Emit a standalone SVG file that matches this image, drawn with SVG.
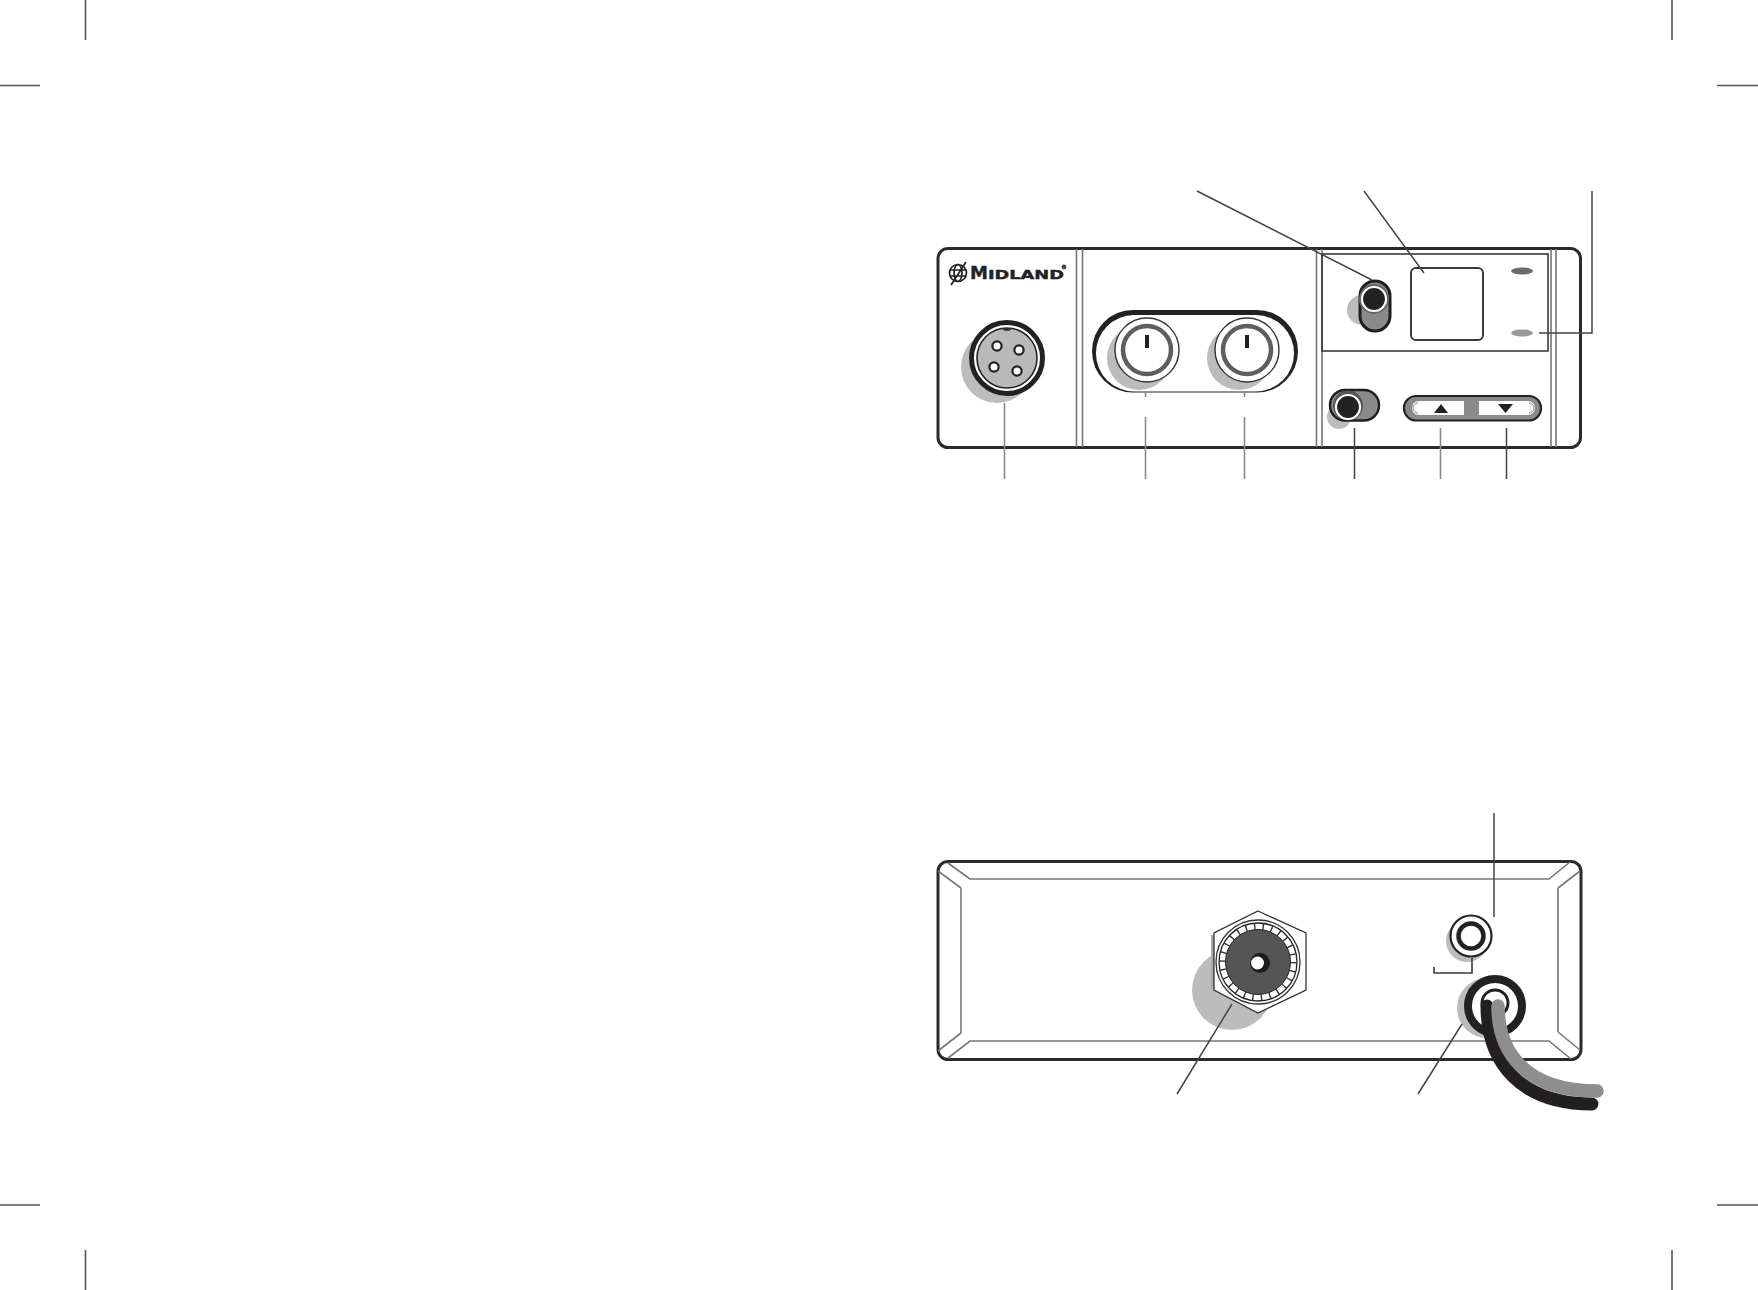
<svg xmlns="http://www.w3.org/2000/svg" width="1758" height="1290" viewBox="0 0 1758 1290">
<style>
.ln{fill:none;stroke:#3a3a3a;stroke-width:1.6}
.lead{fill:none;stroke:#444;stroke-width:1.5}
.leadg{fill:none;stroke:#8a8a8a;stroke-width:1.6}
.panel{fill:#fff;stroke:#2a2a2a;stroke-width:3}
.thin{fill:none;stroke:#777;stroke-width:1.6}
.shadow{fill:#bcbcbc}
.crop{fill:none;stroke:#555;stroke-width:1.6}
</style>
<rect width="1758" height="1290" fill="#fff"/>
<g id="crop-marks" class="crop">
<path d="M85.500 0V40M0 85.500H40M1672 0V40M1717 85.500H1758M0 1205H40M85.500 1250V1290M1717 1205H1758M1672 1250V1290"/>
</g>
<g id="front-panel">
<rect class="panel" x="938" y="248.500" width="642.500" height="199" rx="10"/>
<path class="thin" d="M1076.500 249V447M1082.500 249V447M1316.500 249V447M1322 249V447M1551 249V447M1556 249V447"/>
<rect class="ln" x="1322" y="254" width="226" height="97"/>
</g>
<g id="logo">
<g fill="none" stroke="#222" stroke-width="1.700">
<circle cx="958" cy="273" r="8.500"/><ellipse cx="958" cy="273" rx="4" ry="8.500"/><path d="M950 270H966M950 276H966M951 285L966 262"/>
</g>
<text x="970" y="279" font-family="'DejaVu Sans',sans-serif" font-weight="bold" font-size="18" fill="#222" stroke="#222" stroke-width="0.400">M<tspan font-size="12" textLength="76" lengthAdjust="spacingAndGlyphs">IDLAND</tspan></text>
<circle cx="1064" cy="267" r="2.400" fill="#444"/>
</g>
<g id="mic-connector">
<circle class="shadow" cx="997" cy="367" r="36"/>
<circle cx="1007" cy="358" r="35.500" fill="#fff" stroke="#222" stroke-width="5"/>
<circle cx="1007" cy="358" r="30" fill="#b9b9b9" stroke="#222" stroke-width="1.600"/>
<path d="M1002 328a5 3 0 0 0 10 0z" fill="#333"/>
<g fill="#fff" stroke="#222" stroke-width="2.200">
<circle cx="997" cy="346" r="4.600"/><circle cx="1019" cy="350" r="4.600"/><circle cx="994" cy="367" r="4.600"/><circle cx="1017" cy="371" r="4.600"/>
</g>
</g>
<g id="knob-housing">
<rect x="1092" y="310" width="206" height="82.500" rx="41" fill="#222"/>
<rect x="1096" y="315" width="198" height="76.500" rx="38" fill="#fff"/>
</g>
<g id="knob-left">
<circle class="shadow" cx="1139" cy="358" r="32"/>
<circle cx="1147" cy="350" r="32" fill="#fff" stroke="#333" stroke-width="1.400"/>
<circle cx="1147" cy="350" r="24" fill="#fff" stroke="#5e5e5e" stroke-width="4.500"/>
<rect x="1145" y="335" width="4" height="13" fill="#222"/>
</g>
<g id="knob-right">
<circle class="shadow" cx="1239" cy="358" r="32"/>
<circle cx="1247" cy="350" r="32" fill="#fff" stroke="#333" stroke-width="1.400"/>
<circle cx="1247" cy="350" r="24" fill="#fff" stroke="#5e5e5e" stroke-width="4.500"/>
<rect x="1245" y="335" width="4" height="13" fill="#222"/>
</g>
<g id="toggle-upper">
<circle class="shadow" cx="1362" cy="310" r="15"/>
<rect x="1360" y="281" width="30" height="50" rx="15" fill="#8a8a8a" stroke="#1e1e1e" stroke-width="3"/>
<circle cx="1374" cy="299" r="15" fill="#666"/>
<circle cx="1374" cy="299" r="12" fill="#222" stroke="#fff" stroke-width="2.200"/>
</g>
<g id="display">
<rect x="1411" y="268" width="72" height="72" rx="5" fill="none" stroke="#3a3a3a" stroke-width="2"/>
</g>
<g id="leds">
<ellipse cx="1522" cy="271" rx="11" ry="3.500" fill="#6b6b6b"/>
<ellipse cx="1522" cy="333" rx="11" ry="3.500" fill="#999"/>
</g>
<g id="toggle-lower">
<circle class="shadow" cx="1339" cy="417" r="12"/>
<rect x="1330" y="390" width="49" height="30.500" rx="15" fill="#8a8a8a" stroke="#1e1e1e" stroke-width="2.400"/>
<circle cx="1348" cy="405.500" r="15" fill="#555"/>
<circle cx="1348" cy="407" r="12" fill="#222" stroke="#fff" stroke-width="2.200"/>
</g>
<g id="channel-buttons">
<rect x="1404" y="396" width="137" height="24.500" rx="12.200" fill="#8a8a8a" stroke="#222" stroke-width="2.200"/>
<path d="M1464 401H1419a7 7 0 0 0 0 14H1464zM1479 401H1528a7 7 0 0 1 0 14H1479z" fill="#fff"/>
<path d="M1418 403a5 5 0 0 0 0 10M1529 403a5 5 0 0 1 0 10" fill="none" stroke="#888" stroke-width="1"/>
<path d="M1434 413L1441 404L1448 413zM1498 404H1513L1505.500 413z" fill="#222"/>
</g>
<g id="rear-panel">
<rect class="panel" x="938" y="861.500" width="643" height="198" rx="10"/>
<path class="thin" d="M970 879H1549L1570 862M948 863L970 879M961 888V1033M938 871L961 888M938 1051L961 1033M948 1058L970 1041H1549L1571 1059M1558 888V1032M1580 871L1558 888M1580 1050L1558 1032"/>
</g>
<g id="antenna-connector">
<circle class="shadow" cx="1232" cy="990" r="40"/>
<path d="M1212.500 935V988" fill="none" stroke="#aaa" stroke-width="3"/>
<path d="M1258 911L1306 933V990L1258 1013L1214 990V933z" fill="#fff" stroke="#333" stroke-width="1.300"/>
<circle cx="1258" cy="962" r="42" fill="#fff" stroke="#333" stroke-width="1.300"/>
<circle cx="1258" cy="962" r="39" fill="#fff" stroke="#222" stroke-width="1.300"/>
<circle cx="1258" cy="962" r="35.500" fill="none" stroke="#333" stroke-width="6.500" stroke-dasharray="1.400 7.179"/>
<circle cx="1258" cy="962" r="32.500" fill="#555" stroke="#222" stroke-width="1"/>
<circle cx="1260" cy="963" r="10" fill="#1c1c1c"/>
<circle cx="1257.500" cy="963" r="6.500" fill="#fff"/>
</g>
<g id="aux-jack">
<circle class="shadow" cx="1467" cy="941" r="21"/>
<circle cx="1471" cy="936" r="20.500" fill="#fff" stroke="#222" stroke-width="2.200"/>
<circle cx="1471" cy="936" r="12.500" fill="#fff" stroke="#222" stroke-width="4.500"/>
</g>
<g id="power-cable">
<circle class="shadow" cx="1487" cy="1008" r="30"/>
<circle cx="1495" cy="1006" r="27" fill="#fff" stroke="#222" stroke-width="8"/>
<circle cx="1495" cy="1003" r="13" fill="#fff" stroke="#222" stroke-width="3"/>
<path d="M1487 1006C1487 1062 1520 1104 1592 1104" fill="none" stroke="#231f20" stroke-width="13" stroke-linecap="round"/>
<path d="M1498 1006C1498 1052 1525 1091 1597 1091" fill="none" stroke="#8e8e8e" stroke-width="13.500" stroke-linecap="round"/>
</g>
<g id="connectors">
<path class="lead" d="M1197 191L1372 280M1364 191L1424 273M1592 191V333H1539M1494 813V917M1232 1004L1177 1094M1462 1024L1418 1094"/>
<path class="leadg" d="M1004.500 403V479M1145.500 393V397M1145.500 417V479M1244.500 393V397M1244.500 417V479M1440.500 428V479"/>
<path class="lead" d="M1354.500 428V479M1506.500 428V479"/>
<path class="ln" d="M1472 958V973H1434V967"/>
</g>
</svg>
